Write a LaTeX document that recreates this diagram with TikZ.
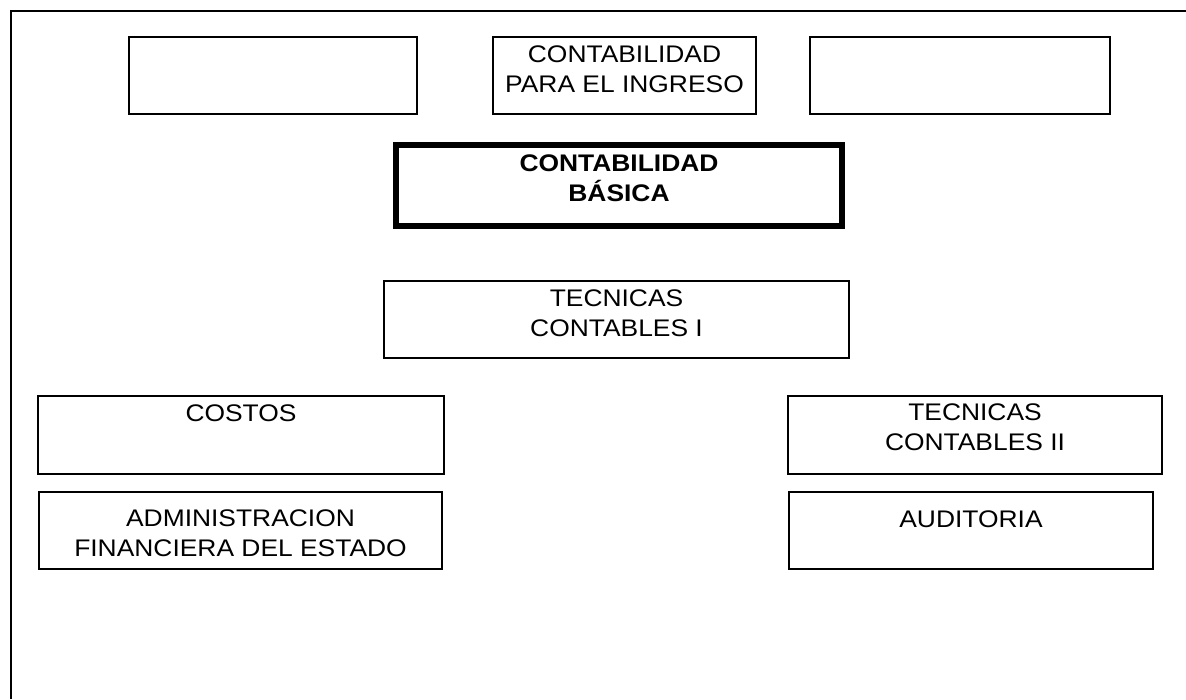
\documentclass[tikz,border=0pt]{standalone}
\usepackage{fontspec}
\setmainfont{Liberation Sans}[FakeStretch=1.1]
\usepackage{tikz}
\usetikzlibrary{positioning}

\begin{document}
\begin{tikzpicture}[x=1pt,y=-1pt]
	\tikzstyle{box}=[draw, line width=1.8pt, inner sep=0pt, rectangle]
	\tikzstyle{thickbox}=[box, line width=5.5pt]
	\tikzstyle{txt}=[anchor=north, inner sep=0pt, align=center, font=\fontsize{24}{30}\selectfont]
	\useasboundingbox (0,0) rectangle (1186,699);
	
	% marco
	\coordinate (m0) at (11,699);
	\coordinate (m1) at (11,11);
	\coordinate (m2) at (1186,11);
	\draw[line width=1.8pt] (m0) -- (m1) -- (m2);
	
	% fila superior
	\node[box, minimum width=288pt, minimum height=77pt] (vacio1)  at (273,75.5)   {};
	\node[box, minimum width=263pt, minimum height=77pt] (ingreso) at (624.5,75.5) {};
	\node[box, minimum width=300pt, minimum height=77pt] (vacio2)  at (960,75.5)   {};
	
	\node[thickbox, minimum width=446pt, minimum height=81pt] (basica) at (619,185.5) {};
	\node[box, minimum width=465pt, minimum height=77pt] (tec1) at (616.5,319.5) {};
	
	\node[box, minimum width=406pt, minimum height=78pt] (costos) at (241,435)   {};
	\node[box, minimum width=374pt, minimum height=78pt] (tec2)   at (975,435)   {};
	\node[box, minimum width=403pt, minimum height=77pt] (admin)  at (240.5,530.5) {};
	\node[box, minimum width=364pt, minimum height=77pt] (audit)  at (971,530.5) {};
	
	% textos
	\node[txt] (tingreso) at ([yshift=-9.2pt]ingreso.north) {CONTABILIDAD\\PARA EL INGRESO};
	\node[txt, font=\fontsize{24}{30}\selectfont\bfseries] (tbasica) at ([yshift=-12.2pt]basica.north) {CONTABILIDAD\\BÁSICA};
	\node[txt] (ttec1) at ([yshift=-9.2pt]tec1.north) {TECNICAS\\CONTABLES I};
	\node[txt] (tcostos) at ([yshift=-9.2pt]costos.north) {COSTOS};
	\node[txt] (ttec2) at ([yshift=-8.8pt]tec2.north) {TECNICAS\\CONTABLES II};
	\node[txt] (tadmin) at ([yshift=-18.2pt]admin.north) {ADMINISTRACION\\FINANCIERA DEL ESTADO};
	\node[txt] (taudit) at ([yshift=-19.2pt]audit.north) {AUDITORIA};
\end{tikzpicture}
\end{document}
